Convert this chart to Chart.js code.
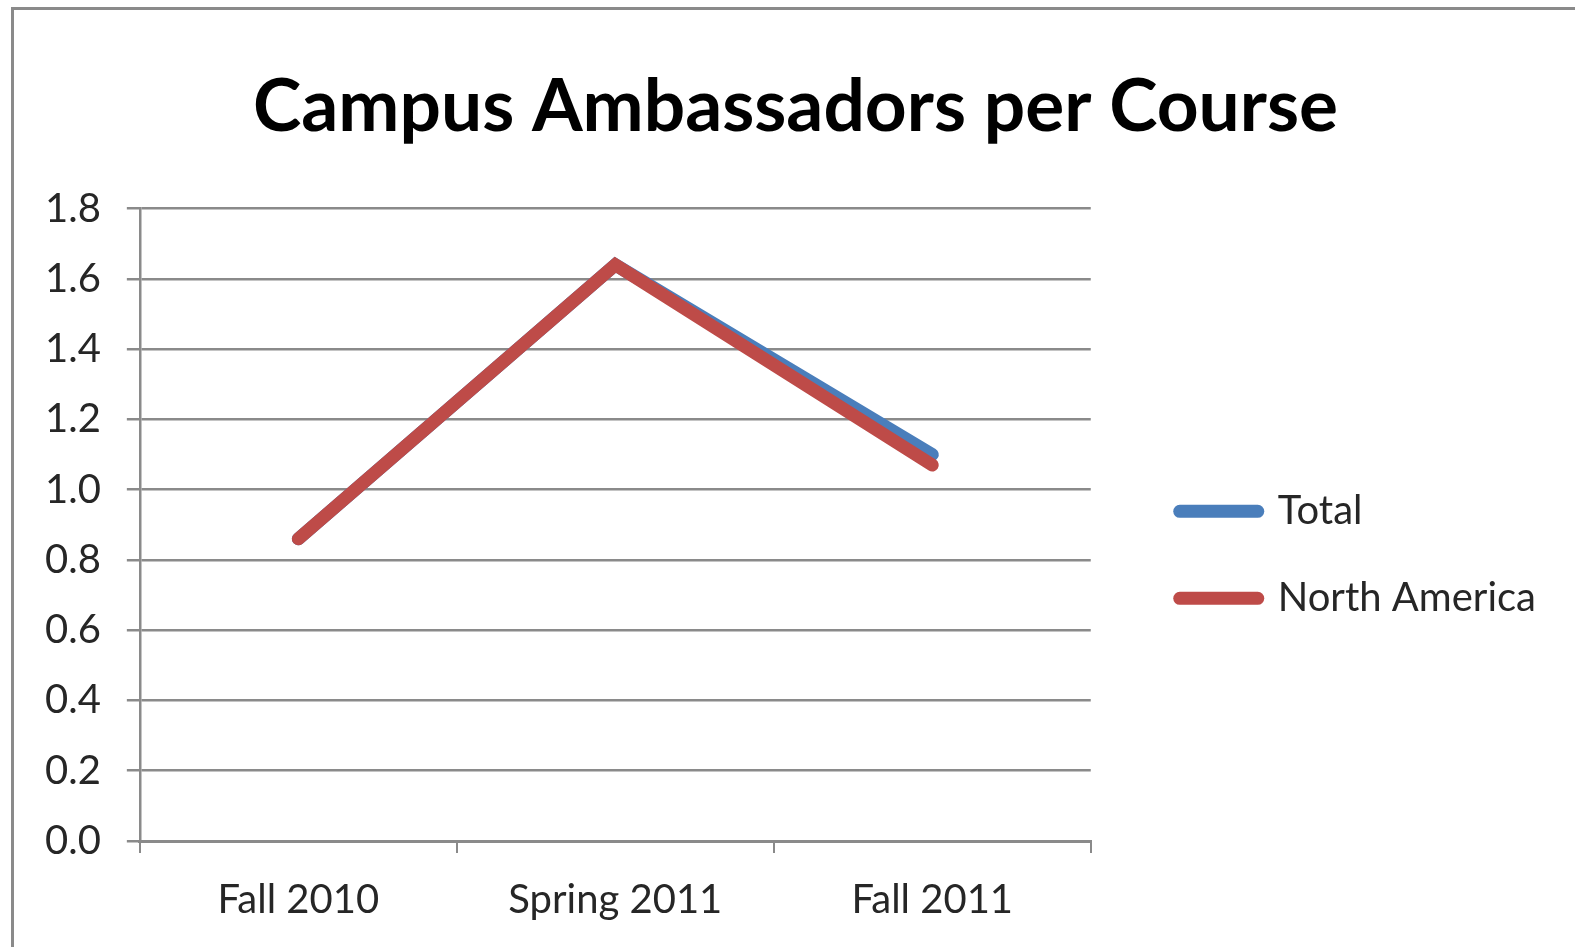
<!DOCTYPE html>
<html>
<head>
<meta charset="utf-8">
<script src="https://cdn.jsdelivr.net/npm/chart.js@4/dist/chart.umd.min.js"></script>
<style>
  html, body { margin: 0; padding: 0; background: #fff; }
  #wrap { position: relative; width: 1575px; height: 947px; }
  #frame { position: absolute; left: 11px; top: 7px; right: 0; bottom: 0;
           border-left: 3px solid #8a8a8a; border-top: 3px solid #8a8a8a; pointer-events: none; }
</style>
</head>
<body>
<div id="wrap">
  <canvas id="myChart"></canvas>
  <div id="frame"></div>
</div>
<script>
var chartLabels = ['Fall 2010', 'Spring 2011', 'Fall 2011'];
var chartTotal = [0.86, 1.64, 1.10];
var chartNorthAmerica = [0.86, 1.64, 1.07];
var yTicks = [0, 0.2, 0.4, 0.6, 0.8, 1.0, 1.2, 1.4, 1.6, 1.8];

var fontFamily = 'Lato, "Open Sans", sans-serif';

// move legend + title to where the original had them
var boxShift = {
    id: 'boxShift',
    afterLayout: function (chart) {
        var lg = chart.legend;
        if (lg) {
            lg.left += 42; lg.right += 110;   // wider so the label isn't clipped
            lg.top += 30; lg.bottom += 30;
        }
        var t = chart.titleBlock;
        if (t) {
            t.left += 62; t.right += 62;
        }
    }
};

new Chart('myChart', {
    type: 'line',
    data: {
        labels: chartLabels,
        datasets: [{
            label: 'Total',
            order: 1,
            borderColor: '#4a7ebb',
            backgroundColor: '#4a7ebb',
            pointBorderColor: '#4a7ebb',
            data: chartTotal,
        }, {
            label: 'North America',
            order: 0,
            borderColor: '#be4b48',
            backgroundColor: '#be4b48',
            pointBorderColor: '#be4b48',
            data: chartNorthAmerica,
        }]
    },
    options: {
        responsive: true,
        maintainAspectRatio: false,
        animation: false,
        layout: {
            padding: { left: 19, right: 127, top: 64, bottom: 0 }
        },
        elements: {
            line: { borderWidth: 13, borderCapStyle: 'round', borderJoinStyle: 'miter', tension: 0 },
            point: { radius: 0, hoverRadius: 0 }
        },
        scales: {
            x: {
                offset: true,
                grid: { offset: true, drawOnChartArea: false, tickLength: 12, color: '#8a8a8a', lineWidth: 2 },
                border: { color: '#8a8a8a', width: 3 },
                ticks: { padding: 23, color: '#262626', font: { family: fontFamily, size: 40 } }
            },
            y: {
                min: 0,
                max: 1.8,
                afterBuildTicks: function (axis) {
                    axis.ticks = yTicks.map(function (v) { return { value: v }; });
                },
                grid: { tickLength: 13, color: '#8a8a8a', lineWidth: 2.5 },
                border: { color: '#8a8a8a', width: 2.5 },
                ticks: {
                    padding: 26,
                    color: '#262626',
                    font: { family: fontFamily, size: 40 },
                    callback: function (v) { return Number(v).toFixed(1); }
                }
            }
        },
        plugins: {
            legend: {
                display: true,
                position: 'right',
                fullSize: false,
                labels: {
                    usePointStyle: true,
                    pointStyle: 'line',
                    pointStyleWidth: 78,
                    boxHeight: 12,
                    padding: 47,
                    color: '#262626',
                    font: { family: fontFamily, size: 40 },
                    sort: function (a, b) { return a.datasetIndex - b.datasetIndex; },
                    generateLabels: function (chart) {
                        var items = Chart.defaults.plugins.legend.labels.generateLabels(chart);
                        items.forEach(function (it) {
                            it.lineWidth = 13;
                            it.lineCap = 'round';
                        });
                        return items;
                    }
                }
            },
            title: {
                display: true,
                text: 'Campus Ambassadors per Course',
                color: '#000',
                font: { family: fontFamily, size: 73, weight: 'bold' },
                padding: { top: 0, bottom: 57 }
            },
            tooltip: { enabled: false }
        }
    },
    plugins: [boxShift]
});
</script>
</body>
</html>
